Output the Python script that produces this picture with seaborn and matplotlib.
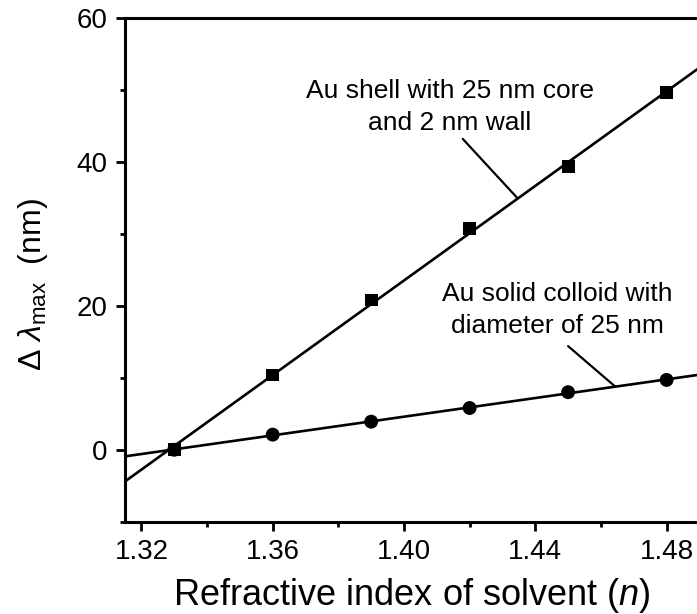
import numpy as np
import pandas as pd
import seaborn as sns
import matplotlib
matplotlib.use("Agg")
import matplotlib.pyplot as plt
from matplotlib.ticker import MultipleLocator

# ---- data ----
n_solvent = [1.33, 1.36, 1.39, 1.42, 1.45, 1.48]
shell_shift = [0.0, 10.4, 20.8, 30.8, 39.4, 49.6]
colloid_shift = [0.0, 2.1, 3.9, 5.8, 8.0, 9.7]
x_ticks = [1.32, 1.36, 1.40, 1.44, 1.48]
y_ticks = [0, 20, 40, 60]

shell_label = "Au shell with 25 nm core\nand 2 nm wall"
colloid_label = "Au solid colloid with\ndiameter of 25 nm"

df_shell = pd.DataFrame({"n": n_solvent, "shift": shell_shift})
df_coll = pd.DataFrame({"n": n_solvent, "shift": colloid_shift})

sns.set_theme(style="ticks")
plt.rcParams["font.family"] = ["Liberation Sans", "DejaVu Sans"]
plt.rcParams["mathtext.fontset"] = "custom"
plt.rcParams["mathtext.rm"] = "Liberation Sans"
plt.rcParams["mathtext.it"] = "Liberation Sans:italic"
plt.rcParams["mathtext.bf"] = "Liberation Sans:bold"

W, H = 697, 614
fig = plt.figure(figsize=(W / 100, H / 100), dpi=100)
ax = fig.add_axes([125 / W, (H - 521.7) / H, 574.4 / W, (521.7 - 18) / H])

xlim = (1.315, 1.49)
ylim = (-10, 60)
ax.set_xlim(*xlim)
ax.set_ylim(*ylim)

line_kw = dict(color="black", lw=1.9)
sns.regplot(data=df_shell, x="n", y="shift", ax=ax, ci=None, truncate=False,
            marker="s", color="black",
            scatter_kws=dict(s=85, edgecolors="none", zorder=3, alpha=1),
            line_kws=line_kw)
sns.regplot(data=df_coll, x="n", y="shift", ax=ax, ci=None, truncate=False,
            marker="o", color="black",
            scatter_kws=dict(s=100, edgecolors="none", zorder=3, alpha=1),
            line_kws=line_kw)

ax.set_xlim(*xlim)
ax.set_ylim(*ylim)

ax.set_xticks(x_ticks)
ax.set_xticklabels([f"{v:.2f}" for v in x_ticks])
ax.xaxis.set_minor_locator(MultipleLocator(0.02))
ax.set_yticks(y_ticks)
ax.set_yticklabels([str(v) for v in y_ticks])
ax.yaxis.set_minor_locator(MultipleLocator(10))

ax.tick_params(axis="both", which="major", direction="out", length=6.5,
               width=2.0, labelsize=20, color="black", labelcolor="black", pad=6)
ax.tick_params(axis="both", which="minor", direction="out", length=3.5,
               width=2.0, color="black")

for side in ["left", "bottom", "top"]:
    ax.spines[side].set_linewidth(2.2)
    ax.spines[side].set_color("black")
ax.spines["right"].set_visible(False)

ax.set_xlabel(r"Refractive index of solvent ($n$)", fontsize=26, labelpad=8, color="black")
ax.set_ylabel(r"$\Delta\ \lambda_{\mathrm{max}}$  (nm)", fontsize=23, color="black")
ax.yaxis.set_label_coords(-0.13, 0.47)

# annotations
ax.text(1.4140, 47.6, shell_label, ha="center", va="center", fontsize=19,
        linespacing=1.42, color="black")
ax.annotate("", xy=(1.4345, 35.0), xytext=(1.4179, 43.2),
            arrowprops=dict(arrowstyle="-", color="black", lw=1.6, shrinkA=0, shrinkB=0))
ax.text(1.4468, 19.4, colloid_label, ha="center", va="center", fontsize=19,
        linespacing=1.42, color="black")
ax.annotate("", xy=(1.4643, 8.8), xytext=(1.4500, 14.4),
            arrowprops=dict(arrowstyle="-", color="black", lw=1.6, shrinkA=0, shrinkB=0))

fig.savefig("out.png", dpi=100)
